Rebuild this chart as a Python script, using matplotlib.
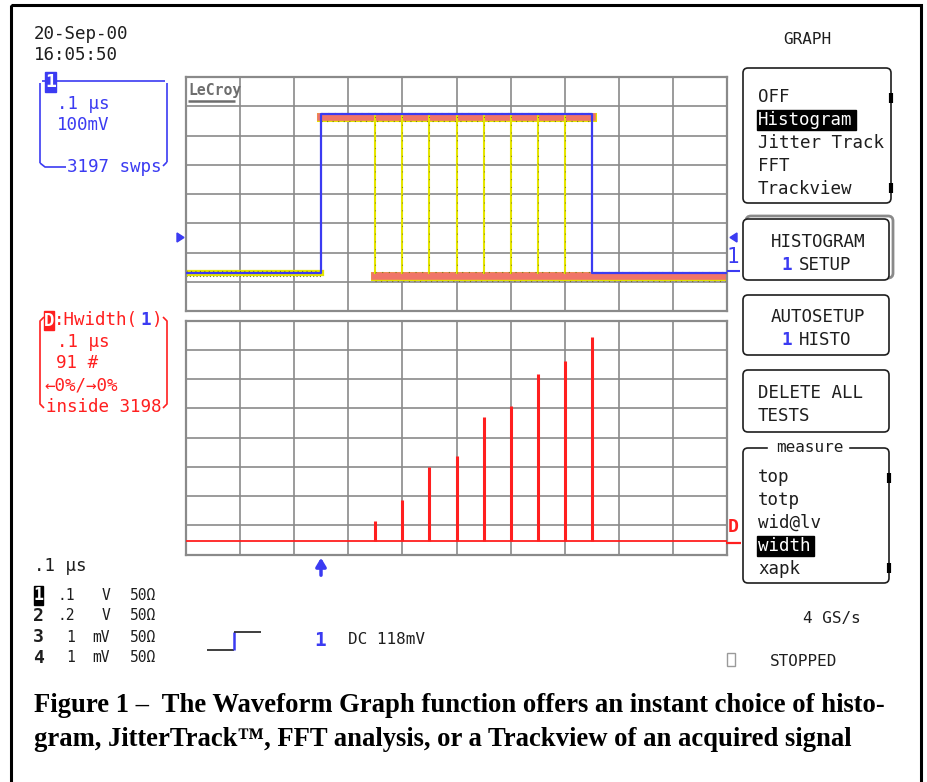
import numpy as np
import matplotlib.pyplot as plt
from matplotlib.patches import Rectangle, FancyBboxPatch, Polygon

# screen: 10 div x 0.1 us, 8 div vertical
t_rise = 0.25                      # us, trigger / rising edge
widths = [0.10, 0.15, 0.20, 0.25, 0.30, 0.35, 0.40, 0.45, 0.50]   # pulse widths, us
counts = [62, 128, 228, 264, 384, 418, 520, 560, 634]             # histogram counts (sum 3198)
v_low = 1.30                       # div
v_high = 6.72                      # div
per_div = 91                       # histogram counts per division
hist_base = 0.47                   # div

menu_items = ['OFF', 'Histogram', 'Jitter Track', 'FFT', 'Trackview']
measure_items = ['top', 'totp', 'wid@lv', 'width', 'xapk']
chan_num = ['1', '2', '3', '4']
chan_scale = ['.1', '.2', '1', '1']
chan_unit = ['V', 'V', 'mV', 'mV']

BLUE = '#3b3bf2'
RED = '#ff1f1f'
SALMON = '#f07468'
YELLOW = '#e4e400'
OLIVE = '#7d7a10'
GRID = '#8a8a8a'
INK = '#1e1e1e'
MONO = ['DejaVu Sans Mono', 'DejaVu Sans']
FS = 12.6

W, H = 927, 782
fig = plt.figure(figsize=(W / 100, H / 100), dpi=100)


def grid_axes(top, bottom, xlim):
    ax = fig.add_axes([186 / W, (H - bottom) / H, 541 / W, (bottom - top) / H])
    ax.set_xlim(*xlim)
    ax.set_ylim(0, 8)
    ax.set_xticks(np.linspace(xlim[0], xlim[1], 11))
    ax.set_yticks(np.arange(0, 9))
    ax.tick_params(length=0, labelbottom=False, labelleft=False)
    ax.grid(True, color=GRID, lw=1.2)
    for s in ax.spines.values():
        s.set_color(GRID)
        s.set_linewidth(1.6)
    return ax


# ---- waveform display
ax1 = grid_axes(77, 311, (0, 1.0))
t_end = 1.0
t_falls = [t_rise + w for w in widths]
for tf in t_falls[:-1]:
    ax1.plot([tf, tf], [v_low, v_high], color=YELLOW, lw=1.5, zorder=3)
    ax1.plot([tf, tf], [v_low, v_high], color=OLIVE, lw=0.7, ls=(0, (1, 7)), zorder=3)
# persistence band
ax1.plot([0, t_rise], [v_low, v_low], color=YELLOW, lw=4.5, zorder=2)
ax1.plot([0, t_rise], [v_low - 0.1, v_low - 0.1], color=OLIVE, lw=0.8, ls=(0, (1, 2)), zorder=2)
ax1.plot([0, t_rise], [v_low + 0.08, v_low + 0.08], color=OLIVE, lw=0.8, ls=(0, (1, 3)), zorder=2)
for y0, t0, t1 in [(v_high - 0.1, t_rise, t_falls[-1]), (v_low - 0.12, t_falls[0], t_end)]:
    ax1.plot([t0, t1], [y0, y0], color=YELLOW, lw=6.5, zorder=2)
    ax1.plot([t0, t1], [y0, y0], color=SALMON, lw=5.5, zorder=2)
    ax1.plot([t0, t1], [y0 - 0.14, y0 - 0.14], color=OLIVE, lw=0.8, ls=(0, (1, 4)), zorder=2)
    ax1.plot([t0, t1], [y0 + 0.14, y0 + 0.14], color=OLIVE, lw=0.8, ls=(0, (1, 5)), zorder=2)
# last acquired trace
ax1.plot([0, t_rise, t_rise, t_falls[-1], t_falls[-1], t_end],
         [v_low, v_low, v_high, v_high, v_low, v_low], color=BLUE, lw=1.6, zorder=4)

# ---- histogram of widths
ax2 = grid_axes(320.5, 554.5, (-t_rise, t_end - t_rise))
ax2.axhline(hist_base, color=RED, lw=1.3, zorder=3)
ax2.vlines(widths, hist_base, [hist_base + c / per_div for c in counts], color=RED, lw=2.2, zorder=3)

# ---- overlay in pixel coordinates
ov = fig.add_axes([0, 0, 1, 1], zorder=5)
ov.set_xlim(0, W)
ov.set_ylim(H, 0)
ov.axis('off')


def txt(x, y, s, c=INK, size=FS, ha='left', **kw):
    ov.text(x, y, s, color=c, fontsize=size, family=MONO, ha=ha, va='center', **kw)


def box(x0, y0, x1, y1, ec=INK, lw=1.2, fc='none', r=5, z=1):
    ov.add_patch(FancyBboxPatch((x0, y0), x1 - x0, y1 - y0, boxstyle=f'round,pad=0,rounding_size={r}',
                                ec=ec, fc=fc, lw=lw, zorder=z))


def line(xs, ys, c=INK, lw=1.2, **kw):
    ov.plot(xs, ys, color=c, lw=lw, solid_capstyle='butt', **kw)


# outer frame
ov.add_patch(Rectangle((11, 5), 910, 790, fill=False, ec='black', lw=2.2))

# date/time
txt(34, 34, '20-Sep-00')
txt(34, 55, '16:05:50')

# channel 1 box
line([42, 165], [81, 81], BLUE)
line([40, 40], [83, 163], BLUE)
line([167, 167], [83, 162], BLUE)
line([40, 45, 66], [163, 167, 167], BLUE)
line([167, 163], [162, 166], BLUE)
ov.add_patch(Rectangle((45, 72), 11, 20, color=BLUE, zorder=3))
txt(50.5, 82, '1', c='white', size=13, ha='center', weight='bold', zorder=4)
txt(57, 104, '.1 µs', c=BLUE)
txt(57, 125, '100mV', c=BLUE)
txt(67, 167, '3197 swps', c=BLUE)

# LeCroy logo
txt(188, 90, 'LeCroy', c='#6e6e6e', size=10.6, weight='bold')
line([188, 235], [101, 101], '#6e6e6e', lw=1.8)

# channel markers
ov.add_patch(Polygon([[177, 233], [177, 242], [184, 237.5]], closed=True, color=BLUE))
ov.add_patch(Polygon([[737, 233], [737, 242], [730, 237.5]], closed=True, color=BLUE))
txt(733, 257, '1', c=BLUE, size=15, ha='center')
line([727, 740], [271, 271], BLUE, lw=1.5)

# histogram trace box
line([44, 40, 40, 44], [317, 321, 404, 408], RED)
line([163, 167, 167, 163], [317, 321, 404, 408], RED)
ov.add_patch(Rectangle((44, 311), 10, 19, color=RED, zorder=3))
txt(49, 320.5, 'D', c='white', size=12.5, ha='center', weight='bold', zorder=4)
txt(54, 320, ':Hwidth(', c=RED)
txt(140, 320, '1', c=BLUE, weight='bold')
txt(152, 320, ')', c=RED)
txt(57, 342, '.1 µs', c=RED)
txt(56, 363, '91 #', c=RED)
txt(44, 385, '←0%/→0%', c=RED)
txt(46, 407, 'inside 3198', c=RED)
txt(733, 527, 'D', c=RED, size=13, ha='center', weight='bold')
line([726, 741], [543, 543], RED, lw=1.6)

# trigger position arrow under histogram
ov.annotate('', xy=(321, 555), xytext=(321, 578),
            arrowprops=dict(arrowstyle='-|>,head_width=0.3,head_length=0.5', color=BLUE, lw=2.5))

# bottom-left settings
txt(34, 566, '.1 µs')
for i in range(4):
    y = 595 + i * 21
    if i == 0:
        ov.add_patch(Rectangle((34, y - 9), 9, 19, color='black', zorder=3))
        txt(38.5, y, chan_num[i], c='white', size=12, ha='center', weight='bold', zorder=4)
    else:
        txt(38.5, y, chan_num[i], size=13, ha='center', weight='bold')
    txt(75, y, chan_scale[i], size=10.5, ha='right')
    txt(110, y, chan_unit[i], size=10.5, ha='right')
    txt(130, y, '50Ω', size=10.5)

# trigger icon + coupling
line([207, 234], [650, 650], INK)
line([234, 234], [650, 632], BLUE, lw=1.8)
line([234, 261], [632, 632], INK)
txt(320, 640, '1', c=BLUE, size=14, ha='center', weight='bold')
txt(348, 640, 'DC 118mV', size=11.5)

# status
ov.add_patch(Rectangle((727, 653), 8, 13, fill=False, ec='#9a9a9a', lw=1))
txt(770, 661, 'STOPPED', size=11.5)
txt(803, 618, '4 GS/s', size=11.5)

# right menu
txt(807, 39, 'GRAPH', ha='center', size=11.5)
box(743, 68, 891, 203)
for i, s in enumerate(menu_items):
    y = 97 + i * 23
    if s == 'Histogram':
        ov.add_patch(Rectangle((757, y - 10), 99, 20, color='black', zorder=2))
        txt(758, y, s, c='white', zorder=3)
    else:
        txt(758, y, s)
line([891, 891], [93, 103], 'black', lw=3)
line([891, 891], [183, 193], 'black', lw=3)

box(746, 216, 893, 278, ec='#8a8a8a', lw=2, fc='none', z=1)
box(743, 219, 889, 280, fc='white', z=2)
txt(818, 242, 'HISTOGRAM', ha='center', zorder=3)
txt(781, 265, '1', c=BLUE, zorder=3, weight='bold')
txt(799, 265, 'SETUP', zorder=3)

box(743, 295, 889, 355)
txt(818, 317, 'AUTOSETUP', ha='center')
txt(781, 340, '1', c=BLUE, weight='bold')
txt(799, 340, 'HISTO')

box(743, 370, 889, 432)
txt(758, 393, 'DELETE ALL')
txt(758, 416, 'TESTS')

box(743, 448, 889, 583)
ov.add_patch(Rectangle((768, 441), 80, 14, color='white', zorder=2))
txt(810, 447, 'measure', ha='center', size=11.5, zorder=3)
for i, s in enumerate(measure_items):
    y = 477 + i * 23
    if s == 'width':
        ov.add_patch(Rectangle((757, y - 10), 57, 20, color='black', zorder=2))
        txt(758, y, s, c='white', zorder=3)
    else:
        txt(758, y, s)
line([889, 889], [473, 483], 'black', lw=3)
line([889, 889], [563, 573], 'black', lw=3)

# caption
cap = dict(fontsize=19.2, family='Liberation Serif', weight='bold', ha='left', va='center', color='black')
ov.text(34, 706, 'Figure 1 –  The Waveform Graph function offers an instant choice of histo-', **cap)
ov.text(34, 739, 'gram, JitterTrack™, FFT analysis, or a Trackview of an acquired signal', **cap)

fig.savefig('out.png', dpi=100)
